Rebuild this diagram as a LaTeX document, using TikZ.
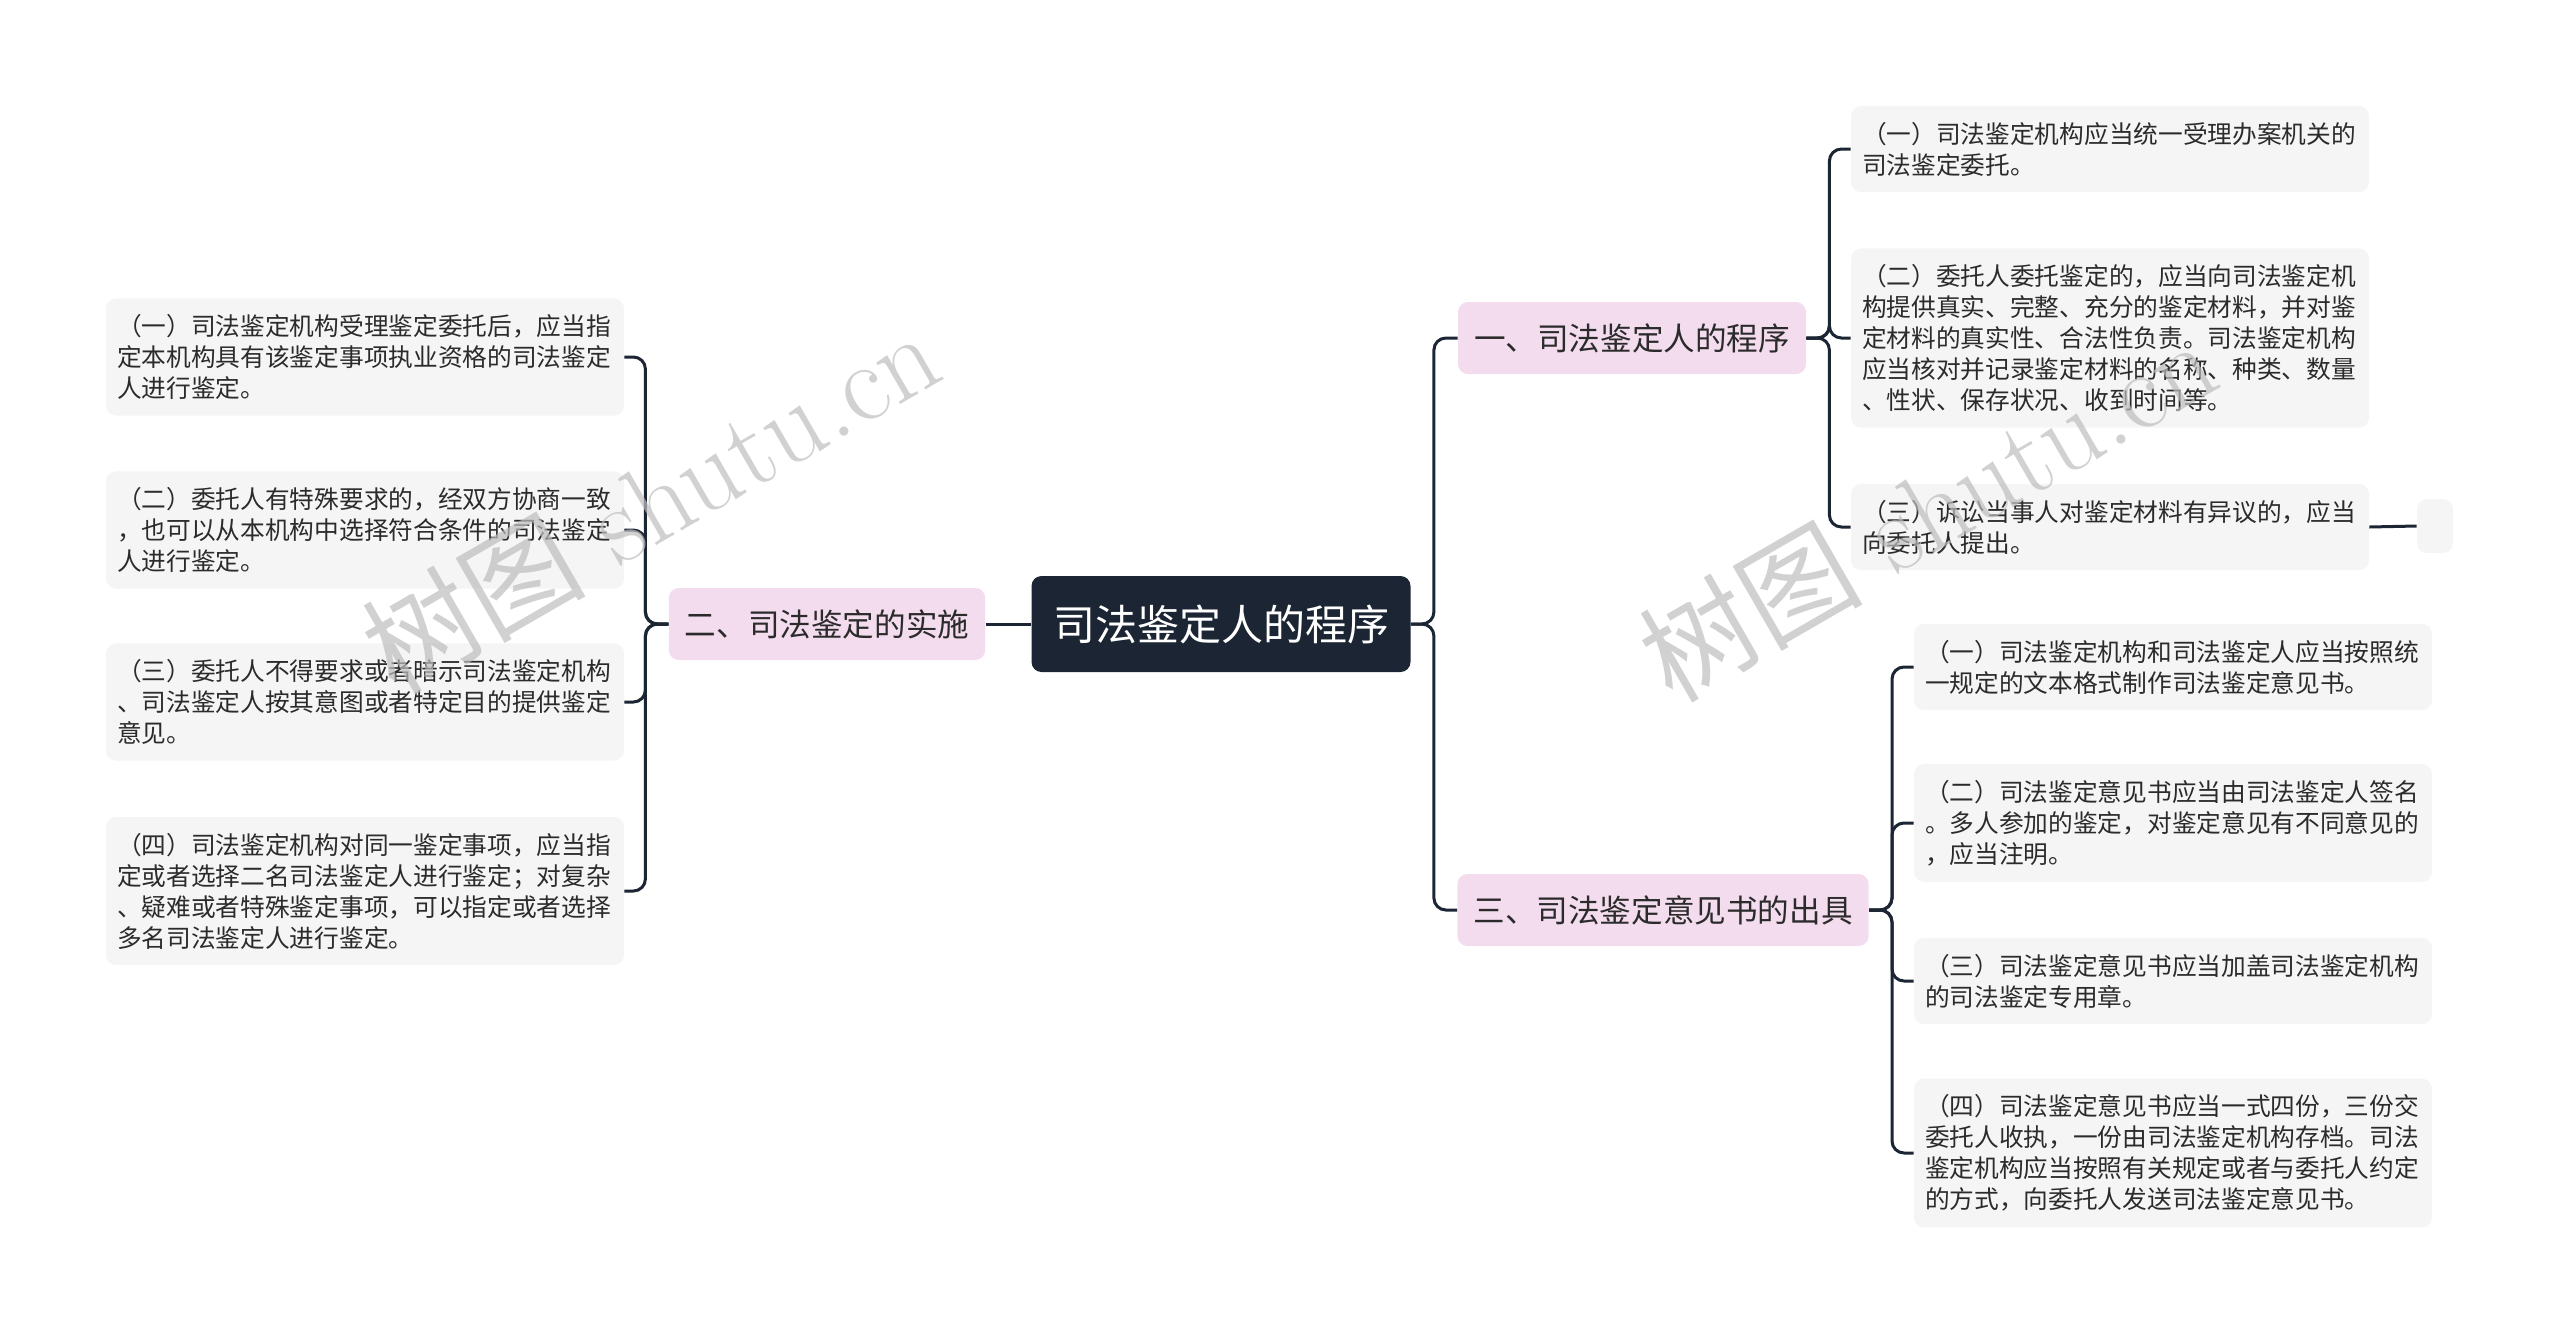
\documentclass[tikz,border=0pt]{standalone}
\usepackage{fontspec}
\newfontfamily\cjk{Noto Sans CJK SC}
\usetikzlibrary{positioning}
\definecolor{mapNavy}{HTML}{1B2533}
\definecolor{mapPink}{HTML}{F4DCEF}
\definecolor{leafGray}{HTML}{F5F5F5}
\definecolor{textDark}{HTML}{2B2B2B}
\definecolor{markGray}{HTML}{BDBDBD}

\tikzset{
  rootbox/.style={fill=mapNavy, text=white, rounded corners=5pt, inner xsep=10.75pt,
    minimum height=48pt, font=\cjk\fontsize{21pt}{25pt}\selectfont},
  topicbox/.style={fill=mapPink, text=textDark, rounded corners=5pt, inner xsep=8pt,
    minimum height=36pt, font=\cjk\fontsize{15.8pt}{19pt}\selectfont},
  leafbox/.style={fill=leafGray, text=textDark, rounded corners=5pt, text width=248pt,
    align=left, inner xsep=5.5pt, inner ysep=8pt, font=\cjk\fontsize{12.35pt}{15.5pt}\selectfont},
  link/.style={draw=mapNavy, line width=1.5pt, rounded corners=6pt},
  watermark/.style={text=markGray, opacity=0.7, rotate=30, font=\fontsize{56pt}{60pt}\selectfont}
}

\begin{document}
\begin{tikzpicture}[x=0.5pt, y=-0.5pt]
    \useasboundingbox (0,0) rectangle (2560,1334);

    % centre and the three branches
    \node[rootbox] (root) at (1221,624) {司法鉴定人的程序};
    \node[topicbox] (sec1) at (1632,338) {一、司法鉴定人的程序};
    \node[topicbox] (sec2) at (827,624) {二、司法鉴定的实施};
    \node[topicbox] (sec3) at (1663,910) {三、司法鉴定意见书的出具};

    % left leaves
    \node[leafbox] (ll1) at (365,357) {（一）司法鉴定机构受理鉴定委托后，应当指\\定本机构具有该鉴定事项执业资格的司法鉴定\\人进行鉴定。};
    \node[leafbox] (ll2) at (365,530) {（二）委托人有特殊要求的，经双方协商一致\\，也可以从本机构中选择符合条件的司法鉴定\\人进行鉴定。};
    \node[leafbox] (ll3) at (365,702) {（三）委托人不得要求或者暗示司法鉴定机构\\、司法鉴定人按其意图或者特定目的提供鉴定\\意见。};
    \node[leafbox] (ll4) at (365,891) {（四）司法鉴定机构对同一鉴定事项，应当指\\定或者选择二名司法鉴定人进行鉴定；对复杂\\、疑难或者特殊鉴定事项，可以指定或者选择\\多名司法鉴定人进行鉴定。};

    % right leaves, first branch
    \node[leafbox] (ra1) at (2110,149) {（一）司法鉴定机构应当统一受理办案机关的\\司法鉴定委托。};
    \node[leafbox] (ra2) at (2110,338) {（二）委托人委托鉴定的，应当向司法鉴定机\\构提供真实、完整、充分的鉴定材料，并对鉴\\定材料的真实性、合法性负责。司法鉴定机构\\应当核对并记录鉴定材料的名称、种类、数量\\、性状、保存状况、收到时间等。};
    \node[leafbox] (ra3) at (2110,527) {（三）诉讼当事人对鉴定材料有异议的，应当\\向委托人提出。};
    \node[fill=leafGray, rounded corners=5pt, minimum width=18pt, minimum height=27pt] (blank) at (2435,526) {};

    % right leaves, third branch
    \node[leafbox] (rb1) at (2173,667) {（一）司法鉴定机构和司法鉴定人应当按照统\\一规定的文本格式制作司法鉴定意见书。};
    \node[leafbox] (rb2) at (2173,823) {（二）司法鉴定意见书应当由司法鉴定人签名\\。多人参加的鉴定，对鉴定意见有不同意见的\\，应当注明。};
    \node[leafbox] (rb3) at (2173,981) {（三）司法鉴定意见书应当加盖司法鉴定机构\\的司法鉴定专用章。};
    \node[leafbox] (rb4) at (2173,1153) {（四）司法鉴定意见书应当一式四份，三份交\\委托人收执，一份由司法鉴定机构存档。司法\\鉴定机构应当按照有关规定或者与委托人约定\\的方式，向委托人发送司法鉴定意见书。};

    % connectors
    \draw[link] (root.west) -- (sec2.east);
    \draw[link] (root.east) -- ++(23,0) |- (sec1.west);
    \draw[link] (root.east) -- ++(23,0) |- (sec3.west);
    \foreach \leaf in {ll1,ll2,ll3,ll4}
      \draw[link] (sec2.west) -- ++(-23,0) |- (\leaf.east);
    \foreach \leaf in {ra1,ra2,ra3}
      \draw[link] (sec1.east) -- ++(23,0) |- (\leaf.west);
    \foreach \leaf in {rb1,rb2,rb3,rb4}
      \draw[link] (sec3.east) -- ++(23,0) |- (\leaf.west);
    \draw[link] (ra3.east) -- (blank.west);

    % watermarks
    \node[watermark] (wm1) at (650,500) {{\cjk 树图} shutu.cn};
    \node[watermark] (wm2) at (1927,508) {{\cjk 树图} shutu.cn};
\end{tikzpicture}
\end{document}
